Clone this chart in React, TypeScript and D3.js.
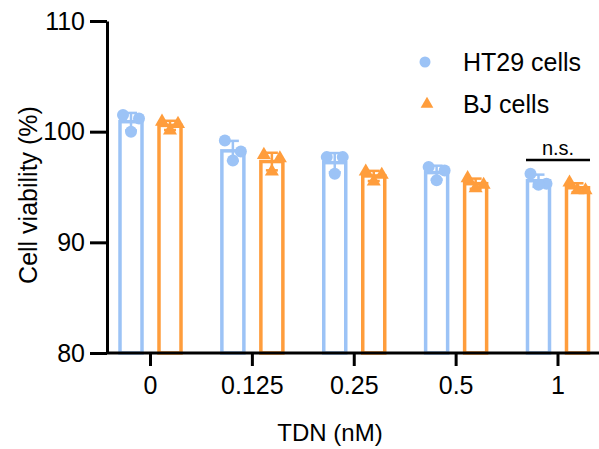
import React, { useEffect, useRef } from "react";
import * as d3 from "d3";

const doses = ["0", "0.125", "0.25", "0.5", "1"];
const ht29Points = [
  [101.5, 101.2, 100.0],
  [99.2, 98.2, 97.4],
  [97.7, 97.7, 96.2],
  [96.8, 96.5, 95.6],
  [96.2, 95.3, 95.2],
];
const bjPoints = [
  [100.9, 100.7, 100.1],
  [97.9, 97.6, 96.4],
  [96.4, 96.1, 95.5],
  [95.8, 95.2, 94.9],
  [95.4, 94.7, 94.7],
];
const yTicks = [80, 90, 100, 110];

const BLUE = "#9cc3f6";
const ORANGE = "#ff9d3c";
const FONT = "'Liberation Sans', Arial, sans-serif";

function App() {
  const svgRef = useRef<SVGSVGElement>(null);

  useEffect(() => {
    const width = 599;
    const height = 449;
    const svg = d3.select(svgRef.current).attr("width", width).attr("height", height);
    svg.selectAll("*").remove();

    const x = d3.scalePoint<string>().domain(doses).range([150, 557.5]);
    const y = d3.scaleLinear().domain([80, 110]).range([353, 21]);

    const series = [
      { name: "HT29 cells", pts: ht29Points, color: BLUE, dx: -19, shape: "circle" },
      { name: "BJ cells", pts: bjPoints, color: ORANGE, dx: 20, shape: "triangle" },
    ];
    const barW = 22;
    const jitter = [-8, 8, 0];

    series.forEach((s) => {
      const g = svg.append("g");
      s.pts.forEach((vals, i) => {
        const cx = (x(doses[i]) as number) + s.dx;
        const mean = d3.mean(vals) as number;
        const sd = d3.deviation(vals) as number;
        g.append("rect")
          .attr("x", cx - barW / 2)
          .attr("y", y(mean))
          .attr("width", barW)
          .attr("height", y(80) - y(mean))
          .attr("fill", "white")
          .attr("stroke", s.color)
          .attr("stroke-width", 3.5);
        // error bar
        g.append("line")
          .attr("x1", cx).attr("x2", cx)
          .attr("y1", y(mean - sd)).attr("y2", y(mean + sd))
          .attr("stroke", s.color).attr("stroke-width", 2.5);
        [mean - sd, mean + sd].forEach((v) => {
          g.append("line")
            .attr("x1", cx - 6).attr("x2", cx + 6)
            .attr("y1", y(v)).attr("y2", y(v))
            .attr("stroke", s.color).attr("stroke-width", 2.5);
        });
        // points
        vals.forEach((v, k) => {
          const px = cx + jitter[k];
          const py = y(v);
          if (s.shape === "circle") {
            g.append("circle").attr("cx", px).attr("cy", py).attr("r", 6).attr("fill", s.color);
          } else {
            g.append("path")
              .attr("d", d3.symbol(d3.symbolTriangle, 85)())
              .attr("transform", `translate(${px},${py})`)
              .attr("fill", s.color);
          }
        });
      });
    });

    // Axes
    const yAxis = svg.append("g")
      .attr("transform", "translate(107,0)")
      .call(d3.axisLeft(y).tickValues(yTicks).tickSize(17).tickPadding(5).tickSizeOuter(0));
    yAxis.select(".domain").attr("stroke-width", 3);
    yAxis.selectAll(".tick line").attr("stroke-width", 3);
    yAxis.selectAll("text").attr("font-size", 25).attr("font-family", FONT).attr("fill", "#000");

    const xAxis = svg.append("g")
      .attr("transform", "translate(0,353)")
      .call(d3.axisBottom(x).tickSize(13).tickPadding(10).tickSizeOuter(0));
    xAxis.select(".domain").attr("d", "M106,0H599").attr("stroke-width", 3);
    xAxis.selectAll(".tick line").attr("stroke-width", 3);
    xAxis.selectAll("text").attr("font-size", 25).attr("font-family", FONT).attr("fill", "#000");

    // Axis titles
    svg.append("text")
      .attr("transform", "translate(37,195) rotate(-90)")
      .attr("text-anchor", "middle")
      .attr("font-size", 25).attr("font-family", FONT)
      .text("Cell viability (%)");
    svg.append("text")
      .attr("x", 330).attr("y", 441)
      .attr("text-anchor", "middle")
      .attr("font-size", 24).attr("font-family", FONT)
      .text("TDN (nM)");

    // n.s. annotation
    svg.append("line")
      .attr("x1", 526).attr("x2", 590).attr("y1", 160).attr("y2", 160)
      .attr("stroke", "#000").attr("stroke-width", 2.5);
    svg.append("text")
      .attr("x", 558).attr("y", 155)
      .attr("text-anchor", "middle")
      .attr("font-size", 20).attr("font-family", FONT)
      .text("n.s.");

    // Legend
    const legend = svg.append("g");
    legend.append("circle").attr("cx", 425).attr("cy", 62).attr("r", 5.5).attr("fill", BLUE);
    legend.append("path")
      .attr("d", d3.symbol(d3.symbolTriangle, 70)())
      .attr("transform", "translate(427,104)")
      .attr("fill", ORANGE);
    legend.append("text").attr("x", 463).attr("y", 71)
      .attr("font-size", 25).attr("font-family", FONT).text("HT29 cells");
    legend.append("text").attr("x", 463).attr("y", 113)
      .attr("font-size", 25).attr("font-family", FONT).text("BJ cells");
  }, []);

  return <svg ref={svgRef} style={{ position: "absolute", left: 0, top: 0 }}></svg>;
}

export default App;
